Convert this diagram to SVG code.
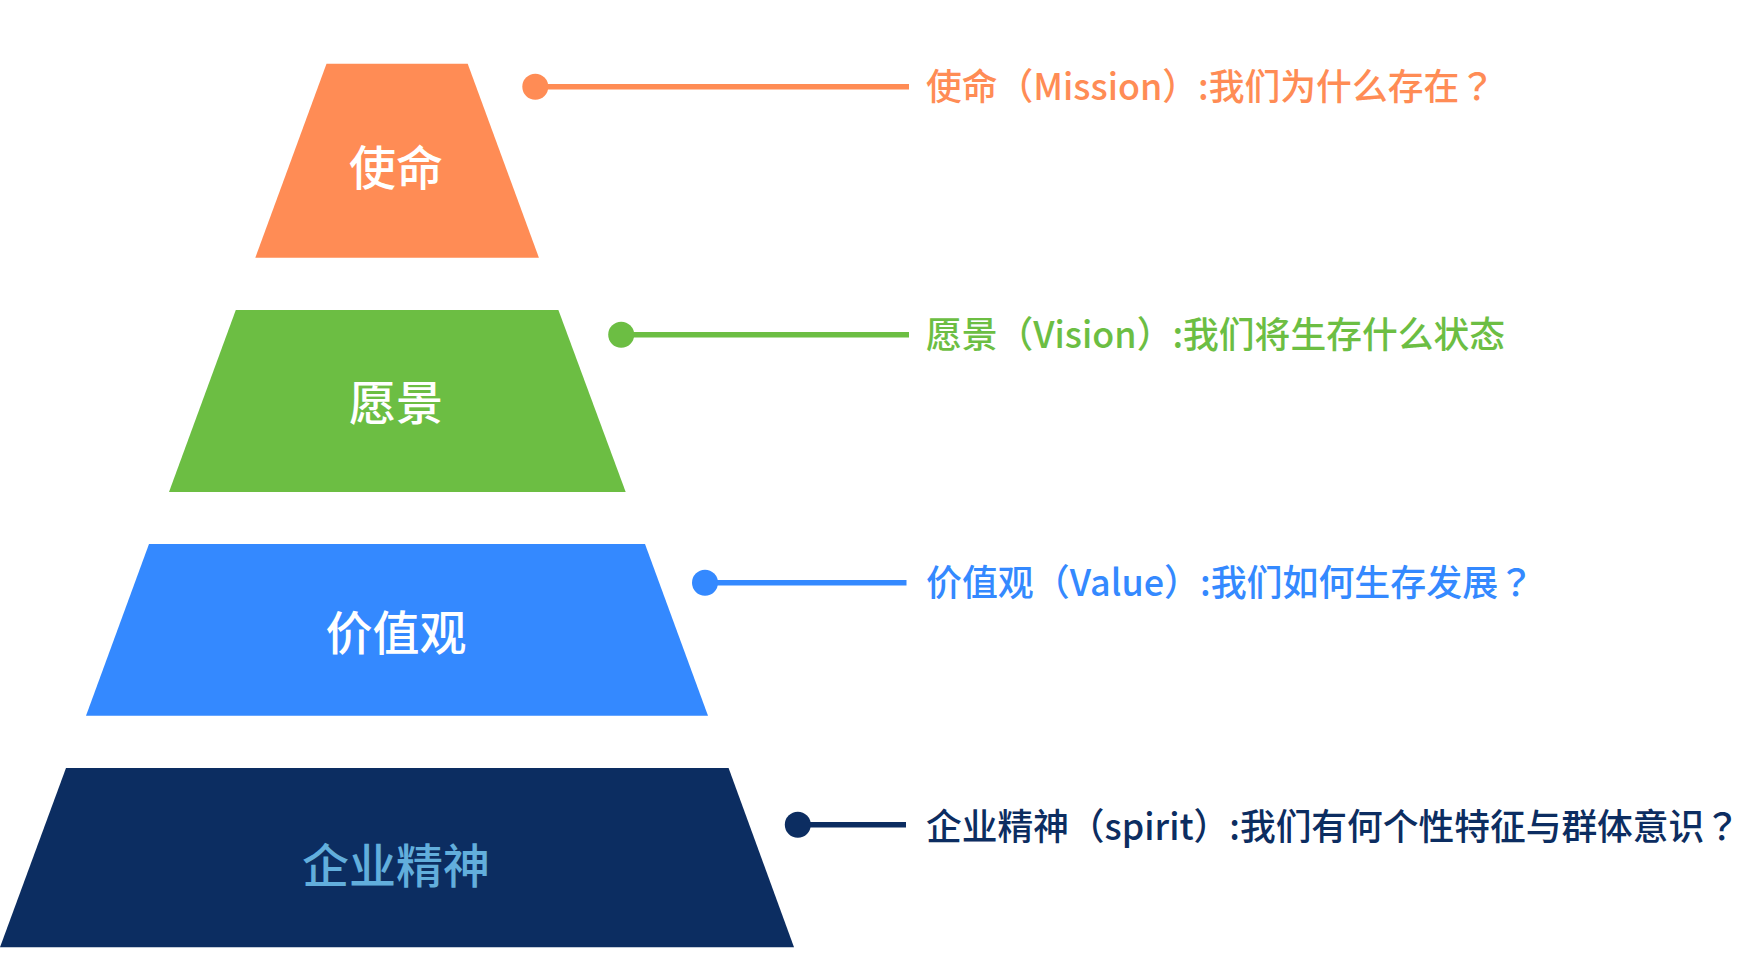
<svg xmlns="http://www.w3.org/2000/svg" width="1744" height="964" viewBox="0 0 1744 964">
<style>
.lbl{font-family:"Noto Sans CJK SC","Noto Sans",sans-serif;font-size:47px;font-weight:500;text-anchor:middle;}
.desc{font-family:"Noto Sans CJK SC","Noto Sans",sans-serif;font-size:36.5px;font-weight:500;}
.q{font-family:"Noto Sans CJK TC","Noto Sans CJK SC",sans-serif;}
.ln{stroke-width:5.5;fill:none;}
</style>
<rect width="1744" height="964" fill="#ffffff"/>
<g id="mission">
<polygon points="326.5,63.7 467.7,63.7 538.9,257.7 255.3,257.7" fill="#FF8C55"/>
<text class="lbl" x="396" y="184.5" fill="#ffffff">使命</text>
</g>
<g id="vision">
<polygon points="235.8,310 558.4,310 625.7,492 169,492" fill="#6CBE43"/>
<text class="lbl" x="396" y="420" fill="#ffffff">愿景</text>
</g>
<g id="value">
<polygon points="149,544 645,544 708,715.7 86,715.7" fill="#3489FF"/>
<text class="lbl" x="396" y="650" fill="#ffffff">价值观</text>
</g>
<g id="spirit">
<polygon points="66,768 728.6,768 794,947.3 0,947.3" fill="#0C2D61"/>
<text class="lbl" x="396" y="882.5" fill="#62AEDC">企业精神</text>
</g>
<g id="connectors">
<line class="ln" x1="535.3" y1="86.7" x2="909" y2="86.7" stroke="#FF8C55"/>
<circle cx="535.3" cy="86.7" r="13" fill="#FF8C55"/>
<line class="ln" x1="621.2" y1="334.7" x2="909" y2="334.7" stroke="#6CBE43"/>
<circle cx="621.2" cy="334.7" r="13" fill="#6CBE43"/>
<line class="ln" x1="705" y1="582.7" x2="906.5" y2="582.7" stroke="#3489FF"/>
<circle cx="705" cy="582.7" r="13" fill="#3489FF"/>
<line class="ln" x1="797.8" y1="824.7" x2="906" y2="824.7" stroke="#0C2D61"/>
<circle cx="797.8" cy="824.7" r="13" fill="#0C2D61"/>
</g>
<g id="descriptions">
<text class="desc" x="926" y="99.5" fill="#FF8C55" textLength="569" lengthAdjust="spacingAndGlyphs">使命（Mission）:我们为什么存在<tspan class="q">？</tspan></text>
<text class="desc" x="926" y="348" fill="#6CBE43" textLength="579" lengthAdjust="spacingAndGlyphs">愿景（Vision）:我们将生存什么状态</text>
<text class="desc" x="926" y="596" fill="#3489FF" textLength="608" lengthAdjust="spacingAndGlyphs">价值观（Value）:我们如何生存发展<tspan class="q">？</tspan></text>
<text class="desc" x="926" y="839.5" fill="#0C2D61" textLength="814" lengthAdjust="spacingAndGlyphs">企业精神（spirit）:我们有何个性特征与群体意识<tspan class="q">？</tspan></text>
</g>
</svg>
